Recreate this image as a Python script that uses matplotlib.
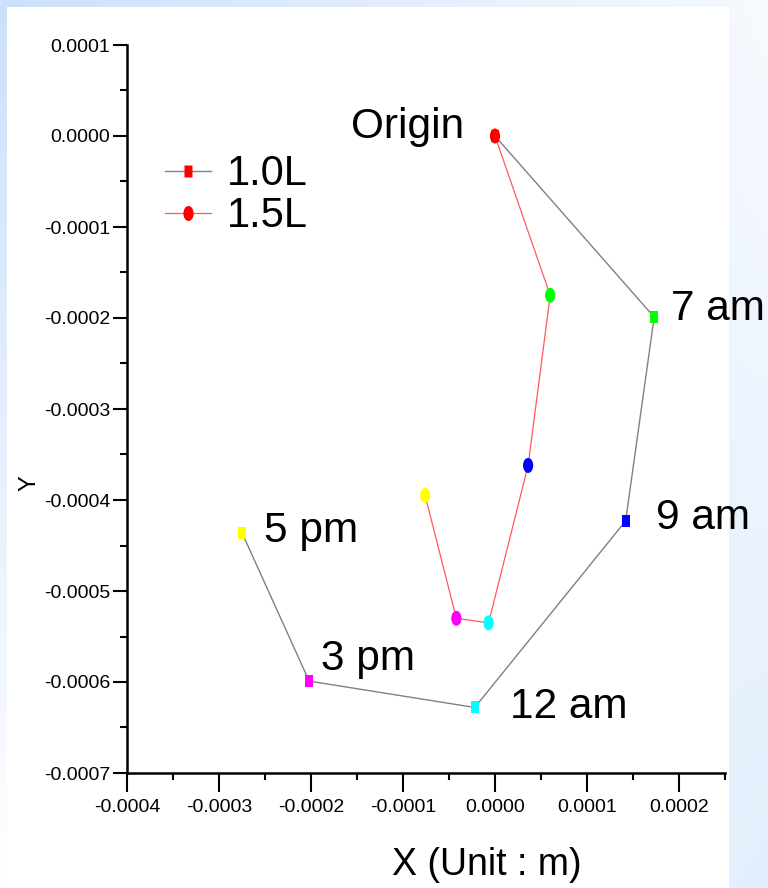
import numpy as np
import matplotlib
matplotlib.use('Agg')
import matplotlib.pyplot as plt
from matplotlib.lines import Line2D
from matplotlib.path import Path
from matplotlib.patches import Rectangle
from matplotlib.ticker import MultipleLocator

plt.rcParams['font.family'] = ['Liberation Sans', 'DejaVu Sans']

# trajectory of 1.0L (square markers, gray line)
x_10 = [0.0, 0.000173, 0.000142, -0.000022, -0.000202, -0.000275]
y_10 = [0.0, -0.000199, -0.000423, -0.000628, -0.000599, -0.000436]
# trajectory of 1.5L (round markers, red line)
x_15 = [0.0, 0.000060, 0.000036, -0.000007, -0.000042, -0.000076]
y_15 = [0.0, -0.000175, -0.000362, -0.000535, -0.000530, -0.000395]

point_colors = ['#ff0000', '#00ff00', '#0000ff', '#00ffff', '#ff00ff', '#ffff00']
time_labels = ['Origin', '7 am', '9 am', '12 am', '3 pm', '5 pm']
series_names = ['1.0L', '1.5L']

x_ticks = [-0.0004, -0.0003, -0.0002, -0.0001, 0.0, 0.0001, 0.0002]
y_ticks = [0.0001, 0.0, -0.0001, -0.0002, -0.0003, -0.0004, -0.0005, -0.0006, -0.0007]

# narrow markers, as in the original (squeezed) picture
rect_marker = Path([(-0.33, -0.5), (0.33, -0.5), (0.33, 0.5), (-0.33, 0.5), (-0.33, -0.5)])
circ = Path.unit_circle()
ell_marker = Path(circ.vertices * np.array([0.68, 1.0]), circ.codes)

fig = plt.figure(figsize=(7.68, 8.88), dpi=100)

# background gradient + white panel
bg = fig.add_axes([0, 0, 1, 1])
yy, xx = np.mgrid[0:1:888j, 0:1:768j]
wgt = 1.0 * (1 - xx) * (1 - yy) + 0.15 * xx * (1 - yy) + 0.0 * (1 - xx) * yy + 0.55 * xx * yy
base = np.array([204, 224, 251]) / 255
img = 1 - wgt[..., None] * (1 - base)
bg.imshow(img, aspect='auto', extent=[0, 1, 0, 1], origin='upper')
bg.add_patch(Rectangle((7 / 768, 0), (729 - 7) / 768, (888 - 7) / 888,
                       facecolor='white', edgecolor='none'))
bg.set_xlim(0, 1)
bg.set_ylim(0, 1)
bg.axis('off')

ax = fig.add_axes([127 / 768, 115 / 888, 598 / 768, 728 / 888])
ax.set_facecolor('none')

ax.plot(x_10, y_10, color='#808080', lw=1.0, zorder=2)
ax.plot(x_15, y_15, color='#ff5a5a', lw=0.9, zorder=2)
ax.scatter(x_10, y_10, c=point_colors, marker=rect_marker, s=75, edgecolors='none', zorder=3)
ax.scatter(x_15, y_15, c=point_colors, marker=ell_marker, s=117, edgecolors='none', zorder=3)

# time labels next to the 1.0L points
offsets = [(-31, 9), (17, 8), (30, 3), (35, 0), (12, 22), (22, 2)]
for xv, yv, lab, off in zip(x_10, y_10, time_labels, offsets):
    ax.annotate(lab, (xv, yv), xytext=off, textcoords='offset pixels',
                ha='right' if off[0] < 0 else 'left', va='center', fontsize=30.5)

handles = [
    Line2D([], [], color='#808080', lw=1.0, marker=rect_marker, markersize=8.6,
           markerfacecolor='#ff0000', markeredgecolor='none'),
    Line2D([], [], color='#ff5a5a', lw=0.9, marker=ell_marker, markersize=10.8,
           markerfacecolor='#ff0000', markeredgecolor='none'),
]
ax.legend(handles, series_names, loc='upper left', bbox_to_anchor=(0.063, 0.85),
          frameon=False, fontsize=30, handlelength=1.1, handletextpad=0.4,
          labelspacing=0.05, borderpad=0, borderaxespad=0)

ax.set_xlim(-0.0004, 0.00025)
ax.set_ylim(-0.0007, 0.0001)
ax.set_xticks(x_ticks, labels=[f'{v:.4f}' for v in x_ticks])
ax.set_yticks(y_ticks, labels=[f'{v:.4f}' for v in y_ticks])
ax.xaxis.set_minor_locator(MultipleLocator(0.00005))
ax.yaxis.set_minor_locator(MultipleLocator(0.00005))

for lab in ax.get_xticklabels() + ax.get_yticklabels():
    lab.set_fontsize(14)
ax.tick_params(axis='both', which='major', length=10, width=1.5, direction='out')
ax.tick_params(axis='both', which='minor', length=5, width=1.5, direction='out')
ax.tick_params(axis='x', which='major', length=14, pad=5)
ax.tick_params(axis='y', pad=2)

for side in ['top', 'right']:
    ax.spines[side].set_visible(False)
for side in ['left', 'bottom']:
    ax.spines[side].set_linewidth(1.8)

ax.set_xlabel('X (Unit : m)', fontsize=27)
ax.xaxis.set_label_coords(0.602, -0.126)
ax.set_ylabel('Y', fontsize=17)
ax.yaxis.set_label_coords(-0.163, 0.398)
ax.xaxis.label.set_va('center')
ax.yaxis.label.set_va('center')

fig.savefig('out.png', dpi=100)
